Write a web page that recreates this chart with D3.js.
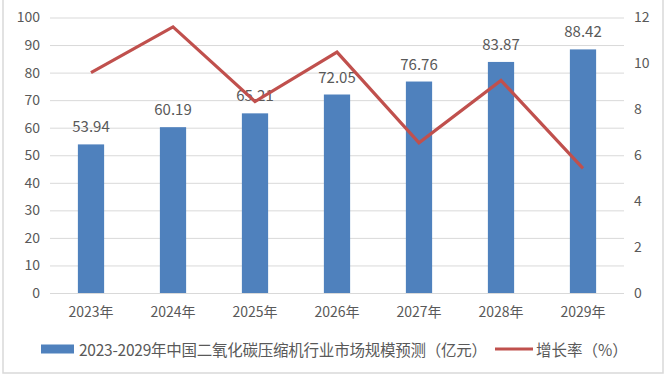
<!DOCTYPE html>
<html>
<head>
<meta charset="utf-8">
<script src="https://cdn.jsdelivr.net/npm/d3@7"></script>
<style>
    body { margin: 0; background: #fff; }
    svg text { font-family: "Noto Sans CJK SC", "Liberation Sans", sans-serif; fill: #595959; }
</style>
</head>
<body>
<div id="chart"></div>
<script>
// Chart data
const years = ["2023年", "2024年", "2025年", "2026年", "2027年", "2028年", "2029年"];
const marketSize = [53.94, 60.19, 65.21, 72.05, 76.76, 83.87, 88.42];
const growthRate = [9.6, 11.59, 8.34, 10.49, 6.54, 9.26, 5.43];
const leftTicks = [0, 10, 20, 30, 40, 50, 60, 70, 80, 90, 100];
const rightTicks = [0, 2, 4, 6, 8, 10, 12];
const barName = "2023-2029年中国二氧化碳压缩机行业市场规模预测（亿元）";
const lineName = "增长率（%）";

const width = 668, height = 378;
const margin = { top: 17.5, right: 44, bottom: 85, left: 50 };

const svg = d3.select("#chart")
    .append("svg")
    .attr("width", width)
    .attr("height", height);

// Frame around the chart (no top edge)
svg.append("path")
    .attr("d", `M3,0 V373 H663 V0`)
    .attr("fill", "none")
    .attr("stroke", "#d9d9d9")
    .attr("stroke-width", 1.5);

const x = d3.scaleBand()
    .domain(years)
    .range([margin.left, width - margin.right])
    .paddingInner(0.68)
    .paddingOuter(0.34);

const yLeft = d3.scaleLinear()
    .domain([0, 100])
    .range([height - margin.bottom, margin.top]);

const yRight = d3.scaleLinear()
    .domain([0, 12])
    .range([height - margin.bottom, margin.top]);

// Grid lines
svg.append("g")
    .attr("transform", `translate(${margin.left},0)`)
    .call(d3.axisLeft(yLeft)
        .tickValues(leftTicks)
        .tickSize(-(width - margin.left - margin.right))
        .tickFormat(""))
    .call(g => g.select(".domain").remove())
    .selectAll("line")
    .attr("stroke", "#d9d9d9")
    .attr("stroke-width", 1);

// Left axis labels
svg.append("g")
    .attr("transform", `translate(${margin.left - 10},0)`)
    .call(d3.axisLeft(yLeft).tickValues(leftTicks).tickSize(0).tickPadding(0))
    .call(g => g.select(".domain").remove())
    .selectAll("text")
    .style("font-size", "14px")
    .attr("fill", "#595959");

// Right axis labels
svg.append("g")
    .attr("transform", `translate(${width - margin.right + 10},0)`)
    .call(d3.axisRight(yRight).tickValues(rightTicks).tickSize(0).tickPadding(0))
    .call(g => g.select(".domain").remove())
    .selectAll("text")
    .style("font-size", "14px")
    .attr("fill", "#595959");

// Bottom axis labels
svg.append("g")
    .attr("transform", `translate(0,${height - margin.bottom})`)
    .call(d3.axisBottom(x).tickSize(0).tickPadding(14))
    .call(g => g.select(".domain").remove())
    .selectAll("text")
    .style("font-size", "14px")
    .attr("fill", "#595959");

// Bars
svg.selectAll(".bar")
    .data(marketSize)
    .join("rect")
    .attr("class", "bar")
    .attr("x", (d, i) => x(years[i]))
    .attr("y", d => yLeft(d))
    .attr("width", x.bandwidth())
    .attr("height", d => yLeft(0) - yLeft(d))
    .attr("fill", "#4f81bd");

// Bar labels
svg.selectAll(".bar-label")
    .data(marketSize)
    .join("text")
    .attr("class", "bar-label")
    .attr("x", (d, i) => x(years[i]) + x.bandwidth() / 2)
    .attr("y", d => yLeft(d) - 12)
    .attr("text-anchor", "middle")
    .style("font-size", "15px")
    .attr("fill", "#404040")
    .text(d => d.toFixed(2));

// Growth line
const line = d3.line()
    .x((d, i) => x(years[i]) + x.bandwidth() / 2)
    .y(d => yRight(d));

svg.append("path")
    .datum(growthRate)
    .attr("d", line)
    .attr("fill", "none")
    .attr("stroke", "#c0504d")
    .attr("stroke-width", 3.2)
    .attr("stroke-linejoin", "miter");

// Legend
const legendY = 349;
svg.append("rect")
    .attr("x", 41)
    .attr("y", legendY - 4.5)
    .attr("width", 33)
    .attr("height", 9)
    .attr("fill", "#4f81bd");

svg.append("text")
    .attr("x", 79)
    .attr("y", legendY)
    .attr("dominant-baseline", "central")
    .style("font-size", "15.5px")
    .attr("textLength", 408)
    .text(barName);

svg.append("line")
    .attr("x1", 495)
    .attr("x2", 533)
    .attr("y1", legendY)
    .attr("y2", legendY)
    .attr("stroke", "#c0504d")
    .attr("stroke-width", 3.2);

svg.append("text")
    .attr("x", 536)
    .attr("y", legendY)
    .attr("dominant-baseline", "central")
    .style("font-size", "15.5px")
    .text(lineName);
</script>
</body>
</html>
